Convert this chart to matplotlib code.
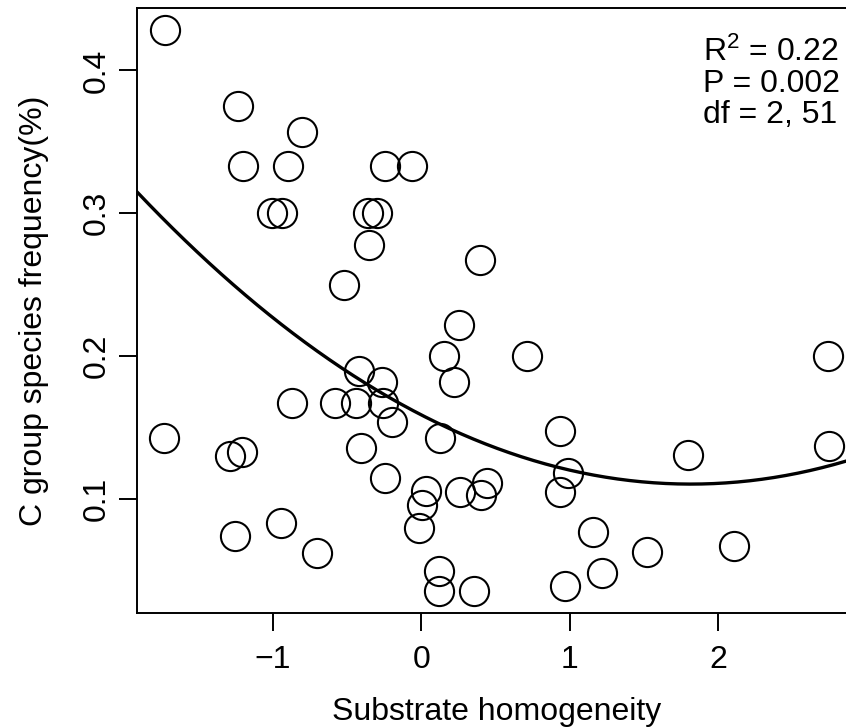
import numpy as np
import matplotlib
matplotlib.use("Agg")
import matplotlib.pyplot as plt

plt.rcParams["font.family"] = ["Liberation Sans", "DejaVu Sans"]
plt.rcParams["mathtext.fontset"] = "custom"
plt.rcParams["mathtext.rm"] = "Liberation Sans"
plt.rcParams["mathtext.it"] = "Liberation Sans:italic"

# substrate homogeneity (x) and C group species frequency (y)
homogeneity = [
    -1.724, -1.735, -1.234, -1.199, -1.286, -1.207, -1.253, -0.943, -1.003, -0.936,
    -0.896, -0.801, -0.867, -0.700, -0.519, -0.579, -0.422, -0.438, -0.406, -0.350,
    -0.357, -0.296, -0.242, -0.061, -0.265, -0.254, -0.197, -0.242, 0.032, 0.005,
    -0.013, 0.263, 0.442, 0.402, 0.121, 0.117, 0.357, 0.397, 0.256, 0.157,
    0.218, 0.128, 0.714, 0.936, 0.990, 0.936, 1.158, 1.219, 0.970, 1.522,
    1.798, 2.108, 2.741, 2.747,
]
frequency = [
    0.428, 0.143, 0.375, 0.333, 0.130, 0.133, 0.074, 0.083, 0.300, 0.300,
    0.333, 0.357, 0.167, 0.062, 0.250, 0.167, 0.190, 0.167, 0.136, 0.278,
    0.300, 0.300, 0.333, 0.333, 0.182, 0.167, 0.154, 0.115, 0.106, 0.096,
    0.080, 0.105, 0.111, 0.103, 0.050, 0.036, 0.036, 0.267, 0.222, 0.200,
    0.182, 0.143, 0.200, 0.148, 0.118, 0.105, 0.077, 0.048, 0.039, 0.063,
    0.131, 0.067, 0.200, 0.137,
]
stats_lines = ["R$^2$ = 0.22", "P = 0.002", "df = 2, 51"]
x_ticks = [-1, 0, 1, 2]
y_ticks = [0.1, 0.2, 0.3, 0.4]

x = np.array(homogeneity)
y = np.array(frequency)

fig = plt.figure(figsize=(8.46, 7.28), dpi=100)
ax = fig.add_axes([137 / 846, 115 / 728, 718.5 / 846, 605 / 728])

ax.plot(x, y, "o", ms=21, mfc="none", mec="black", mew=1.5, clip_on=False)

# quadratic fit like the original lm(y ~ x + I(x^2))
coef = np.polyfit(x, y, 2)
pad_x = 0.04 * (x.max() - x.min())
pad_y = 0.04 * (y.max() - y.min())
xlim = (x.min() - pad_x, x.max() + pad_x)
xs = np.linspace(xlim[0], xlim[1], 300)
ax.plot(xs, np.polyval(coef, xs), color="black", lw=2.4)

ax.set_xlim(xlim)
ax.set_ylim(y.min() - pad_y, y.max() + pad_y)

for s in ax.spines.values():
    s.set_linewidth(1.4)
ax.set_xticks(x_ticks)
ax.set_yticks(y_ticks)
ax.set_xticklabels(["\u22121", "0", "1", "2"])
ax.set_yticklabels([str(v) for v in y_ticks])
ax.tick_params(length=13, width=1.4, labelsize=23, direction="out")
ax.tick_params(axis="x", pad=10)
ax.tick_params(axis="y", pad=5, labelrotation=90)
for lab in ax.get_yticklabels():
    lab.set_va("center")

ax.set_xlabel("Substrate homogeneity", fontsize=23, labelpad=16)
ax.set_ylabel("C group species frequency(%)", fontsize=23, labelpad=24)

for i, line in enumerate(stats_lines):
    fig.text(703 / 846, 1 - (61 + 31 * i) / 728, line, fontsize=23,
             ha="left", va="baseline")

fig.savefig("out.png", dpi=100)
